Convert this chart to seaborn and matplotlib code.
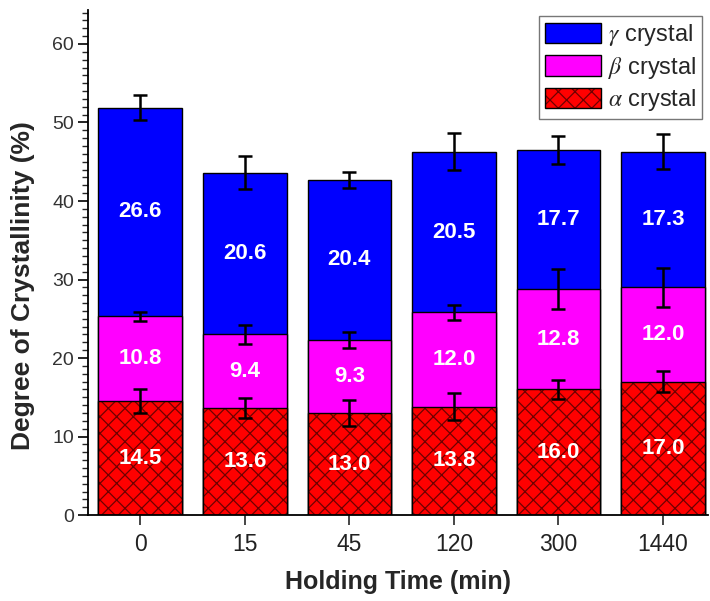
import matplotlib
matplotlib.use("Agg")
import matplotlib.pyplot as plt
import matplotlib.patches as mpatches
from matplotlib.colors import to_rgba
from matplotlib.ticker import MultipleLocator
import numpy as np
import pandas as pd
import seaborn as sns

# ---- data ----
times = ["0", "15", "45", "120", "300", "1440"]
alpha_vals = [14.5, 13.6, 13.0, 13.8, 16.0, 17.0]
beta_vals = [10.8, 9.4, 9.3, 12.0, 12.8, 12.0]
gamma_vals = [26.6, 20.6, 20.4, 20.5, 17.7, 17.3]
alpha_err = [1.5, 1.3, 1.6, 1.7, 1.2, 1.3]
beta_err = [0.6, 1.2, 1.0, 1.0, 2.6, 2.5]
gamma_err = [1.6, 2.1, 1.0, 2.3, 1.8, 2.2]

sns.set_style("ticks")
plt.rcParams["font.family"] = ["Liberation Sans", "DejaVu Sans"]
plt.rcParams["mathtext.fontset"] = "stix"
plt.rcParams["hatch.linewidth"] = 0.9

a = np.array(alpha_vals)
b = np.array(beta_vals)
g = np.array(gamma_vals)
ab = a + b
tot = ab + g

df = pd.DataFrame({"time": times, "alpha": a, "ab": ab, "total": tot})

fig = plt.figure(figsize=(7.10, 6.01), dpi=100)
ax = fig.add_axes([0.124, 0.143, 0.873, 0.84])

hatch_col = "#6e0000"
sns.barplot(data=df, x="time", y="total", order=times, color="#0000FF",
            saturation=1, width=0.8, edgecolor="black", linewidth=1.0, ax=ax)
sns.barplot(data=df, x="time", y="ab", order=times, color="#FF00FF",
            saturation=1, width=0.8, edgecolor="black", linewidth=1.0, ax=ax)
sns.barplot(data=df, x="time", y="alpha", order=times, color="#FF0000",
            saturation=1, width=0.8, edgecolor="black", linewidth=1.0,
            hatch="xx", ax=ax)
for p in ax.containers[2]:
    p._hatch_color = to_rgba(hatch_col)

xs = np.arange(len(times))
for tops, errs in [(a, alpha_err), (ab, beta_err), (tot, gamma_err)]:
    ax.errorbar(xs, tops, yerr=errs, fmt="none", ecolor="black",
                elinewidth=1.8, capsize=5, capthick=1.8, zorder=5)

for i in range(len(times)):
    for lo, val in [(0, a[i]), (a[i], b[i]), (ab[i], g[i])]:
        ax.text(xs[i], lo + val / 2, f"{val:.1f}", ha="center", va="center",
                color="white", fontsize=16, fontweight="bold", zorder=6)

ax.set_xlim(-0.5, 5.43)
ax.set_ylim(0, 64.3)
ax.yaxis.set_major_locator(MultipleLocator(10))
ax.yaxis.set_minor_locator(MultipleLocator(1))
ax.tick_params(axis="y", which="major", length=7, width=1.2, labelsize=14,
               direction="out", colors="black", labelcolor="#333333", pad=3)
ax.tick_params(axis="y", which="minor", length=4, width=1.0, direction="out")
ax.tick_params(axis="x", length=7, width=1.2, labelsize=16.5, direction="out",
               labelcolor="#222222", pad=6)
sns.despine(ax=ax)
for s in ["left", "bottom"]:
    ax.spines[s].set_linewidth(1.3)
    ax.spines[s].set_color("black")

ax.set_xlabel("Holding Time (min)", fontsize=18, fontweight="bold", labelpad=10)
ax.set_ylabel("Degree of Crystallinity (%)", fontsize=19, fontweight="bold")
ax.yaxis.set_label_coords(-0.086, 0.455)

h_g = mpatches.Patch(facecolor="#0000FF", edgecolor="black", linewidth=1.0)
h_b = mpatches.Patch(facecolor="#FF00FF", edgecolor="black", linewidth=1.0)
h_a = mpatches.Patch(facecolor="#FF0000", edgecolor="black", linewidth=1.0, hatch="xx")
h_a._hatch_color = to_rgba(hatch_col)
leg = ax.legend([h_g, h_b, h_a],
                [r"$\gamma$ crystal", r"$\beta$ crystal", r"$\alpha$ crystal"],
                loc="upper right", bbox_to_anchor=(1.0, 1.0), fontsize=17,
                frameon=True, fancybox=False, edgecolor="#555555",
                handlelength=2.35, handleheight=0.95, handletextpad=0.3,
                labelspacing=0.28, borderpad=0.25, borderaxespad=0.25)
leg.get_frame().set_linewidth(1.0)

fig.savefig("out.png", dpi=100, facecolor="white")
